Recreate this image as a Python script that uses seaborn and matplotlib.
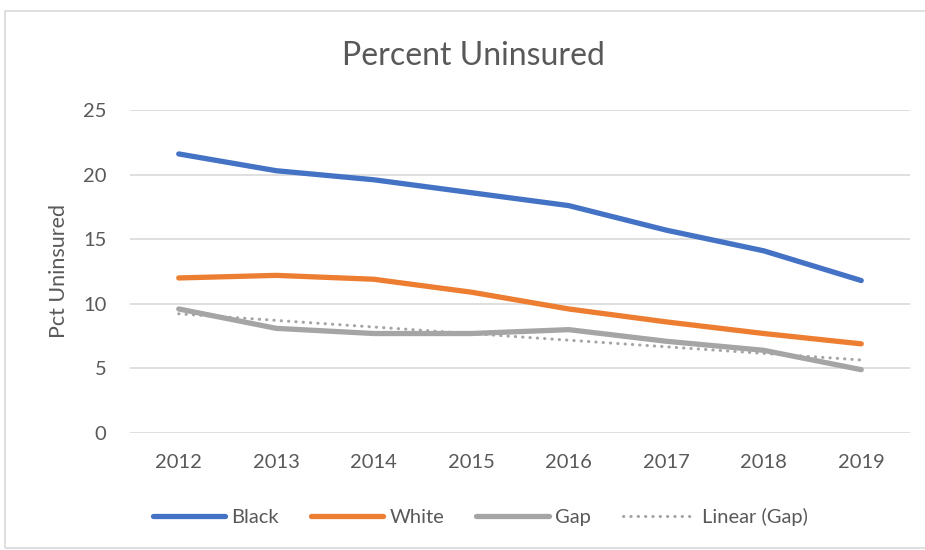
import numpy as np
import pandas as pd
import matplotlib
matplotlib.use("Agg")
import matplotlib.pyplot as plt
import seaborn as sns
from matplotlib.patches import Rectangle
from matplotlib.lines import Line2D

# Data
years = ["2012", "2013", "2014", "2015", "2016", "2017", "2018", "2019"]
black = [21.6, 20.3, 19.6, 18.6, 17.6, 15.7, 14.1, 11.8]
white = [12.0, 12.2, 11.9, 10.9, 9.6, 8.6, 7.7, 6.9]
gap = [9.6, 8.1, 7.7, 7.7, 8.0, 7.1, 6.4, 4.9]

sns.set_theme(style="white")
plt.rcParams['font.family'] = ['Lato', 'DejaVu Sans']

text_col = '#595959'
grid_col = '#d9d9d9'
dots = (0, (0.1, 2.3))

df = pd.DataFrame({"Year": years, "Black": black, "White": white, "Gap": gap})
long = df.melt(id_vars="Year", var_name="Series", value_name="Pct")

fig = plt.figure(figsize=(9.25, 5.5), dpi=100)
ax = fig.add_axes([130 / 925, 1 - 433 / 550, 780 / 925, 323 / 550])

palette = {"Black": "#4472C4", "White": "#ED7D31", "Gap": "#A5A5A5"}
sns.lineplot(data=long, x="Year", y="Pct", hue="Series", palette=palette,
             lw=3.8, ax=ax, legend=False, sort=False)
for ln in ax.get_lines():
    ln.set_solid_capstyle('round')

# linear trend of gap (like Excel's trendline)
xi = np.arange(len(years))
slope, icpt = np.polyfit(xi, gap, 1)
ax.plot(xi, slope * xi + icpt, color='#A5A5A5', lw=2.2, ls=dots,
        dash_capstyle='round')

ax.set_xlim(-0.5, len(years) - 0.5)
ax.set_ylim(0, 25)
ax.set_yticks([0, 5, 10, 15, 20, 25])
ax.grid(axis='y', color=grid_col, lw=1.2)
ax.set_axisbelow(True)
for s in ax.spines.values():
    s.set_visible(False)
ax.tick_params(axis='both', length=0, labelsize=14.5, colors=text_col)
ax.tick_params(axis='x', pad=15)
ax.tick_params(axis='y', pad=17)
ax.set_xlabel("")
ax.set_ylabel("Pct Uninsured", fontsize=15.5, color=text_col, labelpad=10)

fig.text(473 / 925, 1 - 56 / 550, "Percent Uninsured", ha='center', va='center',
         fontsize=23, color=text_col)

handles = [
    Line2D([], [], color="#4472C4", lw=3.8, solid_capstyle='round'),
    Line2D([], [], color="#ED7D31", lw=3.8, solid_capstyle='round'),
    Line2D([], [], color="#A5A5A5", lw=3.8, solid_capstyle='round'),
    Line2D([], [], color="#A5A5A5", lw=2.2, ls=dots, dash_capstyle='round'),
]
leg = fig.legend(handles, ["Black", "White", "Gap", "Linear (Gap)"], loc='center',
                 bbox_to_anchor=(480 / 925, 1 - 517 / 550), ncol=4, frameon=False,
                 fontsize=14.5, handlelength=3.6, handletextpad=0.3, columnspacing=1.6)
for t in leg.get_texts():
    t.set_color(text_col)

# chart area border
fig.patches.append(Rectangle((5 / 925, 2 / 550), 1.0, 1 - 13 / 550,
                             transform=fig.transFigure, fill=False,
                             edgecolor='#d9d9d9', lw=1.2))

fig.savefig("out.png", dpi=100)
